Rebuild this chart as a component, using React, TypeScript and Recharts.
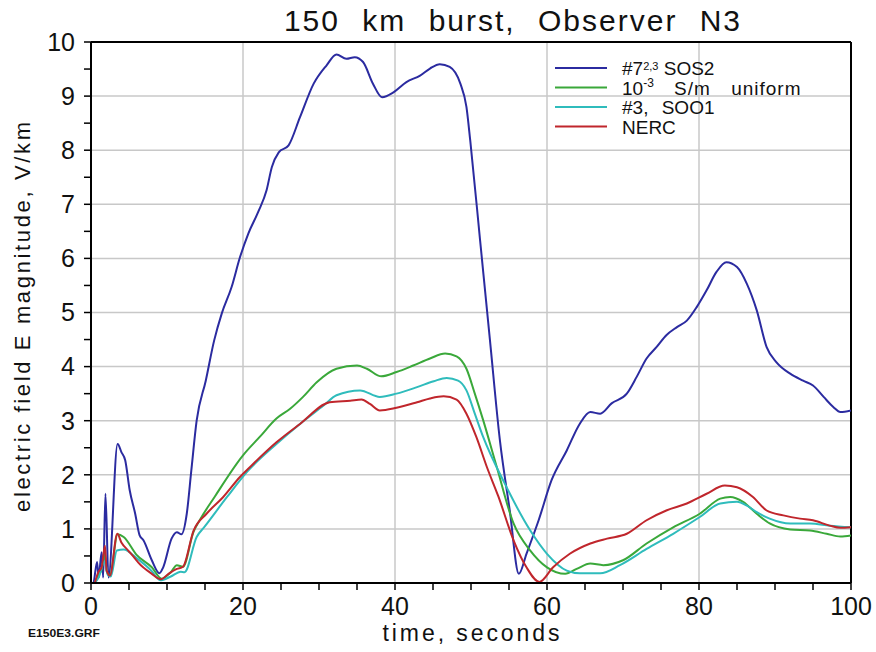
import { LineChart, Line, XAxis, YAxis, ReferenceLine, Legend } from 'recharts';

// time (s) and field (V/km), one pair of arrays per model
const sos2Time = [0, 0.3, 0.8, 1.0, 1.4, 1.6, 1.9, 2.3, 3.5, 4.0, 4.5, 5.1, 5.8, 6.4, 6.9, 8.0, 9.0, 9.5, 10.6, 11.3, 11.9, 12.6, 13.2, 13.9, 15.1, 16.2, 17.2, 18.5, 19.6, 20.7, 22.0, 23.1, 23.8, 24.7, 26.0, 27.5, 29.3, 31.0, 32.3, 33.6, 34.7, 35.8, 37.1, 38.3, 39.8, 41.5, 43.3, 44.6, 45.9, 47.2, 48.6, 49.4, 49.9, 51.2, 52.5, 53.8, 55.1, 56.3, 57.3, 58.9, 60.6, 62.6, 64.3, 65.7, 67.0, 68.5, 70.5, 71.8, 73.1, 74.4, 75.7, 77.1, 78.4, 79.7, 81.0, 82.3, 83.6, 85.0, 86.3, 87.6, 88.9, 90.2, 92.0, 93.7, 95.0, 96.4, 97.7, 98.6, 100];
const sos2Field = [0, 0, 0.39, 0.1, 0.57, 0.1, 1.65, 0.1, 2.57, 2.42, 2.27, 1.71, 1.29, 0.88, 0.79, 0.42, 0.18, 0.29, 0.82, 0.94, 0.9, 1.28, 2.08, 3.0, 3.74, 4.48, 4.98, 5.47, 6.02, 6.46, 6.86, 7.26, 7.69, 7.96, 8.09, 8.61, 9.23, 9.57, 9.77, 9.69, 9.72, 9.63, 9.23, 8.98, 9.07, 9.26, 9.38, 9.51, 9.59, 9.54, 9.23, 8.8, 8.18, 6.33, 4.48, 2.64, 1.34, 0.17, 0.54, 1.16, 1.9, 2.45, 2.94, 3.16, 3.13, 3.32, 3.5, 3.81, 4.15, 4.36, 4.58, 4.73, 4.85, 5.1, 5.41, 5.75, 5.93, 5.84, 5.53, 5.04, 4.36, 4.08, 3.87, 3.74, 3.65, 3.44, 3.25, 3.16, 3.19];

const uniformTime = [0.5, 1.0, 1.4, 1.8, 2.1, 2.5, 3.5, 4.3, 6.0, 8.0, 9.3, 10.5, 11.3, 12.1, 13.5, 14.3, 16.3, 20.0, 22.2, 24.4, 26.2, 27.9, 29.7, 32.3, 35.0, 36.3, 38.2, 40.2, 42.4, 44.6, 46.6, 48.1, 49.4, 50.5, 51.6, 53.4, 55.6, 57.8, 60.0, 62.4, 63.9, 65.7, 67.4, 70.0, 73.1, 76.6, 80.1, 82.8, 84.1, 85.8, 87.6, 89.3, 92.0, 94.6, 96.8, 98.6, 100];
const uniformField = [0, 0.15, 0.25, 0.55, 0.2, 0.15, 0.9, 0.85, 0.52, 0.29, 0.08, 0.2, 0.33, 0.3, 0.95, 1.16, 1.6, 2.36, 2.7, 3.04, 3.22, 3.44, 3.71, 3.96, 4.02, 3.96, 3.82, 3.9, 4.02, 4.15, 4.24, 4.19, 3.96, 3.5, 3.01, 2.14, 1.1, 0.6, 0.29, 0.17, 0.26, 0.36, 0.33, 0.42, 0.73, 1.03, 1.28, 1.56, 1.59, 1.5, 1.28, 1.1, 0.99, 0.97, 0.91, 0.86, 0.88];

const s001Time = [0.5, 1.0, 1.8, 2.2, 2.6, 3.4, 4.3, 6.0, 8.0, 9.1, 10.5, 11.8, 12.3, 13.9, 15.0, 17.9, 20.5, 24.4, 27.5, 30.6, 32.3, 35.4, 38.0, 40.2, 42.9, 45.1, 46.8, 48.3, 49.4, 50.5, 51.6, 54.4, 57.8, 60.0, 62.6, 64.3, 67.0, 69.6, 73.1, 76.6, 80.1, 82.8, 85.0, 86.3, 87.6, 89.3, 92.0, 94.6, 97.2, 100];
const s001Field = [0, 0.1, 0.4, 0.15, 0.12, 0.6, 0.62, 0.46, 0.22, 0.05, 0.12, 0.21, 0.2, 0.85, 1.05, 1.59, 2.05, 2.57, 2.94, 3.28, 3.47, 3.56, 3.44, 3.5, 3.62, 3.73, 3.79, 3.74, 3.56, 3.13, 2.7, 1.85, 0.97, 0.54, 0.23, 0.18, 0.18, 0.33, 0.63, 0.91, 1.22, 1.47, 1.5, 1.43, 1.31, 1.19, 1.1, 1.1, 1.06, 1.03];

const nercTime = [0.5, 0.96, 1.4, 1.84, 2.06, 2.5, 3.46, 4.0, 4.9, 5.8, 6.2, 8.0, 9.2, 10.2, 11.3, 12.1, 13.5, 15.2, 17.4, 19.6, 20.9, 24.4, 27.5, 31.4, 34.1, 35.6, 36.7, 38.0, 40.2, 42.9, 44.6, 46.4, 48.1, 49.4, 50.7, 52.1, 53.6, 55.6, 57.3, 59.0, 60.8, 63.0, 65.7, 67.9, 70.5, 73.1, 75.7, 78.4, 81.0, 83.4, 85.0, 87.1, 88.9, 91.1, 93.3, 95.0, 97.2, 98.6, 100];
const nercField = [0, 0.2, 0.29, 0.69, 0.23, 0.14, 0.91, 0.75, 0.6, 0.45, 0.38, 0.17, 0.07, 0.17, 0.26, 0.3, 0.97, 1.28, 1.59, 1.96, 2.14, 2.6, 2.94, 3.34, 3.37, 3.39, 3.31, 3.19, 3.24, 3.34, 3.41, 3.45, 3.39, 3.13, 2.7, 2.14, 1.6, 0.79, 0.29, 0.02, 0.29, 0.54, 0.73, 0.82, 0.91, 1.16, 1.34, 1.47, 1.65, 1.8, 1.77, 1.59, 1.34, 1.25, 1.19, 1.16, 1.06, 1.02, 1.03];

const xTicks = [0, 5, 10, 15, 20, 25, 30, 35, 40, 45, 50, 55, 60, 65, 70, 75, 80, 85, 90, 95, 100];
const yTicks = [0, 0.5, 1, 1.5, 2, 2.5, 3, 3.5, 4, 4.5, 5, 5.5, 6, 6.5, 7, 7.5, 8, 8.5, 9, 9.5, 10];
const xGrid = [20, 40, 60, 80];
const yGrid = [1, 2, 3, 4, 5, 6, 7, 8, 9];

const FONT = 'Liberation Sans, Arial, sans-serif';

const pts = (t: number[], v: number[]) => t.map((x, i) => ({ t: x, e: v[i] }));

const series = [
  { key: 'sos2', name: '#7 2,3 SOS2', color: '#2b2ba0', data: pts(sos2Time, sos2Field) },
  { key: 'uniform', name: '10-3 S/m uniform', color: '#3aa83a', data: pts(uniformTime, uniformField) },
  { key: 's001', name: '#3, SOO1', color: '#2fbcbc', data: pts(s001Time, s001Field) },
  { key: 'nerc', name: 'NERC', color: '#c0262c', data: pts(nercTime, nercField) },
];

const legendLabel = (key: string) => {
  if (key === 'sos2') return (<>#7<tspan fontSize={11} dy={-5}>2,3</tspan><tspan dy={5}> SOS2</tspan></>);
  if (key === 'uniform') return (<>10<tspan fontSize={12} dy={-8}>-3</tspan><tspan dy={8} style={{ wordSpacing: 14, letterSpacing: 1 }}> S/m uniform</tspan></>);
  if (key === 's001') return <tspan style={{ wordSpacing: 8 }}>#3, SOO1</tspan>;
  return 'NERC';
};

const LegendBox = () => (
  <svg width={270} height={84} style={{ display: 'block' }}>
    {series.map((s, i) => (
      <g key={s.key}>
        <line x1={0} x2={52} y1={10 + i * 19.5} y2={10 + i * 19.5} stroke={s.color} strokeWidth={2} />
        <text x={67} y={17 + i * 19.5} fontSize={19} fontFamily={FONT} fill="#111">
          {legendLabel(s.key)}
        </text>
      </g>
    ))}
  </svg>
);

export default function App() {
  return (
    <div style={{ position: 'absolute', left: 0, top: 0, width: 876, height: 652, background: '#fff' }}>
      <LineChart width={876} height={652} margin={{ top: 42, right: 25, bottom: 19, left: 31 }}>
        <XAxis
          dataKey="t"
          type="number"
          domain={[0, 100]}
          ticks={xTicks}
          interval={0}
          tickFormatter={v => (v % 20 === 0 ? String(v) : '')}
          height={50}
          tickSize={7}
          tickMargin={7}
          allowDataOverflow
          stroke="#000"
          axisLine={{ stroke: '#000', strokeWidth: 2 }}
          tickLine={{ stroke: '#000', strokeWidth: 1.5 }}
          tick={{ fontSize: 25, fill: '#111', fontFamily: FONT }}
        />
        <YAxis
          type="number"
          domain={[0, 10]}
          ticks={yTicks}
          interval={0}
          tickFormatter={v => (v % 1 === 0 ? String(v) : '')}
          width={60}
          tickSize={7}
          tickMargin={9}
          allowDataOverflow
          axisLine={{ stroke: '#000', strokeWidth: 2 }}
          tickLine={{ stroke: '#000', strokeWidth: 1.5 }}
          tick={{ fontSize: 25, fill: '#111', fontFamily: FONT }}
        />
        {xGrid.map(x => <ReferenceLine key={'gx' + x} x={x} stroke="#c8c8c8" strokeWidth={1.5} />)}
        {yGrid.map(y => <ReferenceLine key={'gy' + y} y={y} stroke="#c8c8c8" strokeWidth={1.5} />)}
        <ReferenceLine y={10} stroke="#000" strokeWidth={2} />
        <ReferenceLine x={100} stroke="#000" strokeWidth={2} />
        <Legend
          layout="vertical"
          align="center"
          verticalAlign="middle"
          content={<LegendBox />}
          wrapperStyle={{ left: 555, top: 58, width: 270, height: 84 }}
        />
        {series.map(s => (
          <Line
            key={s.key}
            data={s.data}
            dataKey="e"
            name={s.name}
            type="monotone"
            stroke={s.color}
            strokeWidth={2}
            dot={false}
            isAnimationActive={false}
          />
        ))}
      </LineChart>
      <svg width={876} height={652} style={{ position: 'absolute', left: 0, top: 0, pointerEvents: 'none' }}>
        <text x={513} y={31} textAnchor="middle" fontSize={30} fontFamily={FONT} fill="#111" style={{ wordSpacing: 12, letterSpacing: 2 }}>
          150 km burst, Observer N3
        </text>
        <text x={471} y={641} textAnchor="middle" fontSize={23} fontFamily={FONT} fill="#111" textLength={177} lengthAdjust="spacing">
          time, seconds
        </text>
        <text
          x={0}
          y={0}
          transform="translate(30 317) rotate(-90)"
          textAnchor="middle"
          fontSize={22}
          fontFamily={FONT}
          fill="#111"
          textLength={390}
          lengthAdjust="spacing"
        >
          electric field E magnitude, V/km
        </text>
        <text x={28} y={637} fontSize={10} fontWeight="bold" fontFamily={FONT} fill="#111" textLength={72} lengthAdjust="spacingAndGlyphs">
          E150E3.GRF
        </text>
      </svg>
    </div>
  );
}
